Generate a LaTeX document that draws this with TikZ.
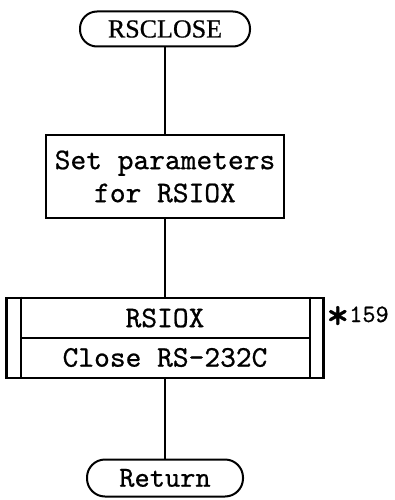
\documentclass[tikz,border=0pt]{standalone}
\usepackage{fontspec}
\setmainfont{Liberation Serif}
\newfontfamily\monob{lmmono10-regular.otf}[FakeBold=0.7]
\newfontfamily\serifb{Liberation Serif}[FakeBold=0.6]
\begin{document}
\begin{tikzpicture}[x=1pt,y=-1pt,
  term/.style={draw,line width=2pt,rounded corners=17pt,minimum height=35pt,inner sep=0pt},
  procbox/.style={draw,line width=2.6pt,minimum width=238pt,minimum height=83pt,align=center,inner sep=0pt},
  subbox/.style={draw,line width=2.6pt,minimum width=317pt,minimum height=80pt,inner sep=0pt},
  mono/.style={font=\monob\fontsize{30}{33}\selectfont},
  flow/.style={line width=1.5pt},
  bar/.style={line width=2pt}]
\useasboundingbox (0,0) rectangle (395,500);
\node[term,minimum width=170pt,font=\serifb\fontsize{26}{26}\selectfont] (start) at (165,29) {RSCLOSE};
\node[procbox,mono] (set) at (165,176.5) {Set parameters\\for RSIOX};
\node[subbox] (sub) at (165,338) {};
\draw[bar] ([xshift=16pt]sub.north west) -- ([xshift=16pt]sub.south west);
\draw[bar] ([xshift=-15pt]sub.north east) -- ([xshift=-15pt]sub.south east);
\draw[bar] ([xshift=16pt]sub.west) -- ([xshift=-15pt]sub.east);
\node[mono,inner sep=0pt] (subA) at (165,318) {RSIOX};
\node[mono,inner sep=0pt] (subB) at (165,357.5) {Close RS-232C};
\node[anchor=base west,inner sep=0pt,font=\monob] (ref) at (326,322) {{\fontsize{44}{44}\selectfont\raisebox{-7pt}{*}}{\fontsize{25}{25}\selectfont 159}};
\node[term,minimum width=156pt,minimum height=37pt,rounded corners=18pt,font=\monob\fontsize{29}{29}\selectfont] (end) at (165,478) {Return};
\draw[flow] (start) -- (set);
\draw[flow] (set) -- (sub);
\draw[flow] (sub) -- (end);
\end{tikzpicture}
\end{document}
